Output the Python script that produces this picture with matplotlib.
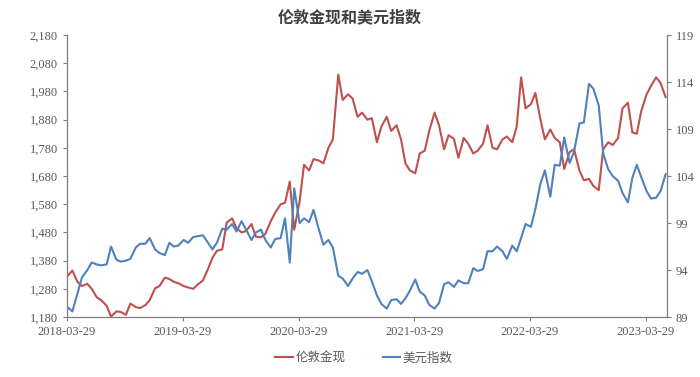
#!/usr/bin/env python3
import matplotlib
matplotlib.use("Agg")
import matplotlib.pyplot as plt
import matplotlib.dates as mdates
from matplotlib.ticker import FuncFormatter
import pandas as pd

OUT_PATH = "out.png"

TITLE = "伦敦金现和美元指数"
GOLD_LABEL = "伦敦金现"
DXY_LABEL = "美元指数"

# semi-monthly samples (1st and 15th) between the first and last day
START_DATE = "2018-03-29"
END_DATE = "2023-05-31"
MID_START = "2018-04-01"
MID_END = "2023-05-15"

GOLD = [
    1325,
    # 2018 Apr - Dec
    1327, 1345, 1305, 1290, 1298, 1280, 1250, 1240, 1220, 1182,
    1200, 1198, 1188, 1228, 1215, 1212, 1222, 1240,
    # 2019
    1282, 1290, 1320, 1315, 1305, 1300, 1290, 1285, 1280, 1295, 1310, 1345,
    1390, 1415, 1420, 1515, 1530, 1495, 1480, 1485, 1510, 1465, 1463, 1475,
    # 2020
    1520, 1550, 1580, 1585, 1660, 1490, 1590, 1720, 1700, 1740, 1735, 1725,
    1780, 1810, 2040, 1950, 1970, 1955, 1890, 1905, 1880, 1885, 1800, 1855,
    # 2021
    1890, 1840, 1860, 1810, 1725, 1700, 1690, 1760, 1770, 1840, 1905, 1860,
    1775, 1825, 1812, 1745, 1815, 1795, 1760, 1770, 1795, 1860, 1780, 1775,
    # 2022
    1810, 1820, 1800, 1855, 2030, 1920, 1935, 1975, 1880, 1810, 1845, 1815,
    1800, 1705, 1765, 1775, 1700, 1665, 1670, 1645, 1630, 1775, 1800, 1790,
    # 2023 Jan - May
    1815, 1920, 1940, 1835, 1830, 1910, 1970, 2000, 2030, 2010,
    1960,
]

DXY = [
    90.1,
    # 2018 Apr - Dec
    90.0, 89.6, 91.5, 93.2, 94.0, 94.8, 94.6, 94.5, 94.6, 96.5,
    95.1, 94.9, 95.0, 95.2, 96.4, 96.8, 96.8, 97.4,
    # 2019
    96.2, 95.8, 95.6, 96.9, 96.5, 96.6, 97.2, 96.9, 97.5, 97.6, 97.7, 97.0,
    96.2, 96.9, 98.4, 98.3, 98.9, 98.1, 99.2, 98.3, 97.2, 98.0, 98.3, 97.2,
    # 2020
    96.4, 97.3, 97.4, 99.5, 94.8, 102.7, 99.0, 99.5, 99.1, 100.4, 98.3, 96.7,
    97.2, 96.4, 93.4, 93.1, 92.3, 93.1, 93.8, 93.6, 94.0, 92.8, 91.3, 90.4,
    # 2021
    89.9, 90.8, 90.9, 90.4, 91.0, 91.8, 93.0, 91.7, 91.3, 90.3, 89.9, 90.5,
    92.5, 92.7, 92.2, 92.9, 92.6, 92.6, 94.2, 93.9, 94.1, 96.0, 96.0, 96.5,
    # 2022
    96.0, 95.2, 96.6, 96.0, 97.4, 98.9, 98.6, 100.5, 103.2, 104.6, 101.8, 105.2,
    105.1, 108.1, 105.4, 106.6, 109.6, 109.7, 113.8, 113.3, 111.5, 106.4, 104.7, 104.0,
    # 2023 Jan - May
    103.5, 102.2, 101.2, 103.8, 105.2, 103.9, 102.4, 101.6, 101.7, 102.4,
    104.2,
]

X_TICKS = ["2018-03-29", "2019-03-29", "2020-03-29", "2021-03-29", "2022-03-29", "2023-03-29"]
LEFT_TICKS = [1180, 1280, 1380, 1480, 1580, 1680, 1780, 1880, 1980, 2080, 2180]
RIGHT_TICKS = [89, 94, 99, 104, 109, 114, 119]

RED = "#C0504D"
BLUE = "#4F81BD"
TEXT_GRAY = "#595959"
SPINE_GRAY = "#7F7F7F"

CJK = ["Noto Sans CJK SC", "DejaVu Sans"]
NUM_FONT = ["Liberation Serif", "DejaVu Serif"]


def build_dates():
    mid = pd.date_range(MID_START, MID_END, freq="SMS")
    return [pd.Timestamp(START_DATE)] + list(mid) + [pd.Timestamp(END_DATE)]


def style_axis(ax):
    for side in ["top", "right", "left", "bottom"]:
        ax.spines[side].set_visible(False)
    ax.tick_params(colors=SPINE_GRAY, labelcolor=TEXT_GRAY, labelsize=9,
                   length=3, width=0.8, direction="out")
    for lab in ax.get_xticklabels() + ax.get_yticklabels():
        lab.set_family(NUM_FONT)


def main():
    dates = build_dates()
    assert len(dates) == len(GOLD) == len(DXY), (len(dates), len(GOLD), len(DXY))

    fig = plt.figure(figsize=(7.0, 3.77), dpi=100)
    ax = fig.add_axes([0.0957, 0.159, 0.857, 0.748])
    ax2 = ax.twinx()

    l1, = ax.plot(dates, GOLD, color=RED, lw=1.5, label=GOLD_LABEL, zorder=3)
    l2, = ax2.plot(dates, DXY, color=BLUE, lw=1.5, label=DXY_LABEL, zorder=3)

    ax.set_xlim(pd.Timestamp("2018-03-29"), pd.Timestamp("2023-06-04"))
    ax.set_ylim(LEFT_TICKS[0], LEFT_TICKS[-1])
    ax2.set_ylim(RIGHT_TICKS[0], RIGHT_TICKS[-1])

    ax.set_yticks(LEFT_TICKS)
    ax.yaxis.set_major_formatter(FuncFormatter(lambda v, p: f"{v:,.0f}"))
    ax2.set_yticks(RIGHT_TICKS)
    ax2.yaxis.set_major_formatter(FuncFormatter(lambda v, p: f"{v:.0f}"))

    ax.set_xticks([pd.Timestamp(t) for t in X_TICKS])
    ax.xaxis.set_major_formatter(mdates.DateFormatter("%Y-%m-%d"))

    style_axis(ax)
    style_axis(ax2)
    ax.spines["left"].set_visible(True)
    ax.spines["bottom"].set_visible(True)
    ax2.spines["right"].set_visible(True)
    for sp in [ax.spines["left"], ax.spines["bottom"], ax2.spines["right"]]:
        sp.set_color(SPINE_GRAY)
        sp.set_linewidth(0.9)
    ax2.tick_params(axis="x", length=0)

    fig.text(0.5, 0.955, TITLE, ha="center", va="center", fontsize=11.5,
             fontweight="bold", color="#404040", family=CJK)

    leg = fig.legend([l1, l2], [GOLD_LABEL, DXY_LABEL], loc="center",
                     bbox_to_anchor=(0.52, 0.05), ncol=2, frameon=False,
                     handlelength=1.4, handletextpad=0.2, columnspacing=3.0,
                     prop={"family": CJK, "size": 9})
    for t in leg.get_texts():
        t.set_color(TEXT_GRAY)

    fig.savefig(OUT_PATH, dpi=100)
    plt.close(fig)


if __name__ == "__main__":
    main()
